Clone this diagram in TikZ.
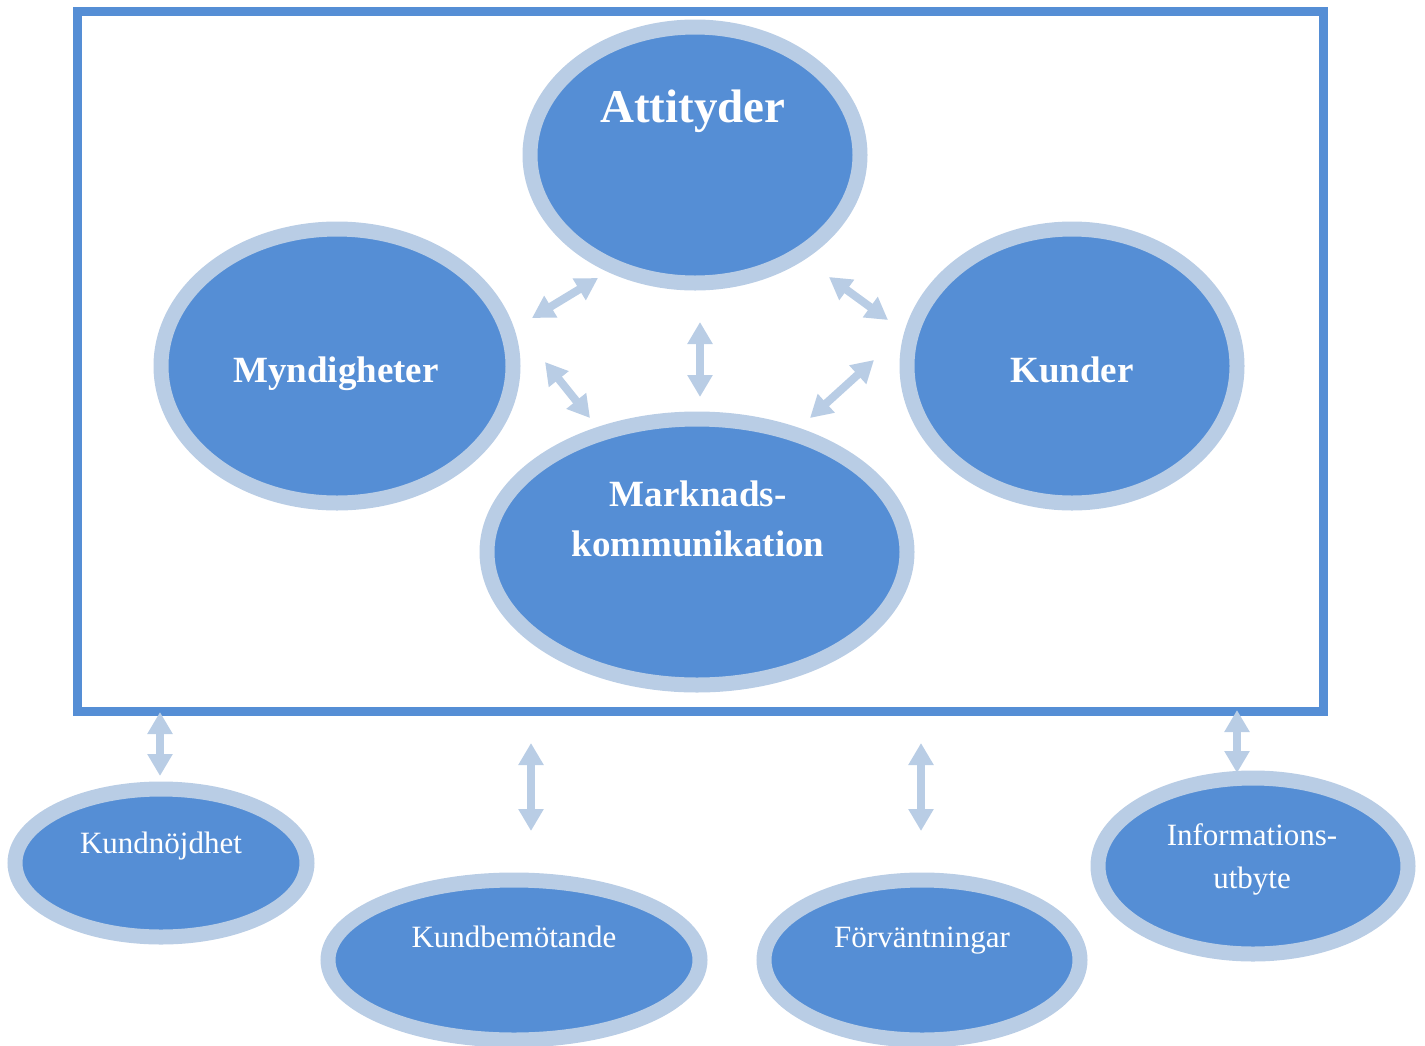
\documentclass[tikz,border=0pt]{standalone}
\usepackage{fontspec}
\setmainfont{Liberation Serif}
\usetikzlibrary{arrows.meta,shapes.geometric}
\definecolor{fillblue}{HTML}{558ED5}
\definecolor{ringblue}{HTML}{B9CDE5}

\begin{document}
\begin{tikzpicture}[x=1pt,y=-1pt,
  oval/.style={ellipse, draw=ringblue, fill=fillblue, line width=15pt, inner sep=0pt},
  bigtxt/.style={text=white, font=\fontsize{37}{50}\selectfont\bfseries, anchor=base, align=center},
  smalltxt/.style={text=white, font=\fontsize{31}{43}\selectfont, anchor=base, align=center},
  link/.style={draw=ringblue, line width=8pt,
    {Triangle[width=24pt,length=22pt]}-{Triangle[width=24pt,length=22pt]}},
]
\useasboundingbox (0,0) rectangle (1425,1045);
% Frame
\draw[fillblue, line width=9pt] (77.5,11.5) rectangle (1323.5,711);
% Inner ellipses
\node[oval, minimum width=330pt, minimum height=256pt] (att) at (695,155) {};
\node[oval, minimum width=352pt, minimum height=274pt] (myn) at (337,366) {};
\node[oval, minimum width=330pt, minimum height=274pt] (kun) at (1072,366) {};
\node[oval, minimum width=420pt, minimum height=266pt] (mkt) at (697,552) {};
% Outer ellipses
\node[oval, minimum width=292pt, minimum height=148pt] (nojd) at (161,863) {};
\node[oval, minimum width=372pt, minimum height=160pt] (bem) at (514,960) {};
\node[oval, minimum width=316pt, minimum height=160pt] (forv) at (922,960) {};
\node[oval, minimum width=310pt, minimum height=176pt] (info) at (1253,866) {};
% Texts (multi-line: base = last line)
\node[bigtxt, font=\fontsize{47}{50}\selectfont\bfseries] (attT) at (693,122) {Attityder};
\node[bigtxt] (mynT) at (336,382) {Myndigheter};
\node[bigtxt] (kunT) at (1072,382) {Kunder};
\node[bigtxt] (mktT) at (698,556) {Marknads-\\kommunikation};
\node[smalltxt] (nojdT) at (161,853) {Kundnöjdhet};
\node[smalltxt] (bemT) at (514,947) {Kundbemötande};
\node[smalltxt] (forvT) at (922,947) {Förväntningar};
\node[smalltxt] (infoT) at (1252,888) {Informations-\\utbyte};
% Arrow ends
\coordinate (a1) at (532,318);  \coordinate (b1) at (598,278);
\coordinate (a2) at (545,362);  \coordinate (b2) at (590,418);
\coordinate (a3) at (700,322);  \coordinate (b3) at (700,397);
\coordinate (a4) at (829,277);  \coordinate (b4) at (888,320);
\coordinate (a5) at (874,360);  \coordinate (b5) at (810,418);
\coordinate (a6) at (160,712);  \coordinate (b6) at (160,776);
\coordinate (a7) at (531,743);  \coordinate (b7) at (531,831);
\coordinate (a8) at (921,743);  \coordinate (b8) at (921,831);
\coordinate (a9) at (1237,710); \coordinate (b9) at (1237,773);
\foreach \i in {1,...,9}
  \draw[link] (a\i) -- (b\i);
\end{tikzpicture}
\end{document}
